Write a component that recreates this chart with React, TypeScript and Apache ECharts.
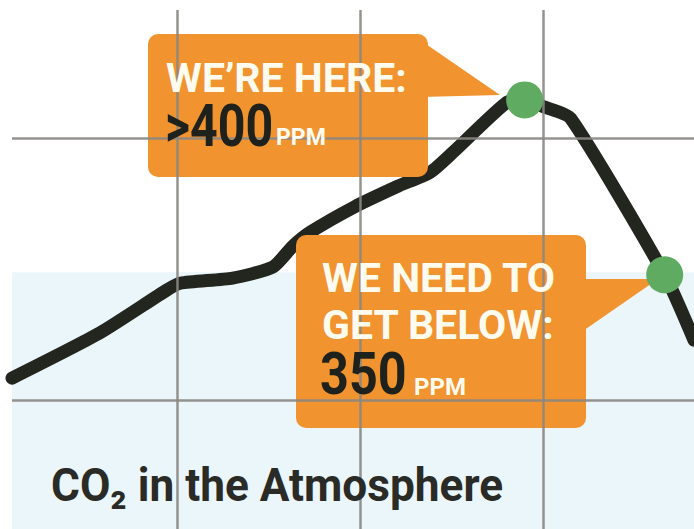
import React, { useEffect, useRef } from "react";
import * as echarts from "echarts";

// Curve of atmospheric CO2 (illustrative), year vs ppm
const years = [1962, 1971.6, 1978.9, 1980.4, 1986.1, 1990.5, 1992.7, 1994.6, 1999.4, 2004.2, 2007.7, 2010.2, 2016.1, 2018.0, 2020.2, 2023.0, 2033.3, 2036.5];
const ppm = [310.4, 327.3, 343.3, 345.9, 347.8, 351.9, 359.8, 365.0, 374.4, 382.2, 387.4, 394.9, 413.6, 414.4, 411.7, 407.6, 349, 324.6];

// Highlighted points: "we're here" and "need to get below"
const dotYears = [2018.0, 2033.3];
const dotPpm = [414.4, 349];

// Grid lines
const gridYears = [1980, 2000, 2020];
const gridPpm = [400, 302];
const safeLevel = 350;

const xMin = 1962;
const xMax = 2036.5;
const yMin = 254;
const yMax = 448;

const ORANGE = "#f1932f";
const WHITE = "#fffbef";
const DARK = "#1f211c";

export default function App() {
  const ref = useRef<HTMLDivElement>(null);

  useEffect(() => {
    if (!ref.current) return;
    const chart = echarts.init(ref.current, null, { renderer: "svg" });

    const txt = (text: string, x: number, y: number, size: number, fill: string, scaleX = 1) => ({
      type: "text",
      x,
      y,
      scaleX,
      z: 6,
      style: {
        text,
        fill,
        fontSize: size,
        fontWeight: "bold",
        fontFamily: "Roboto, 'DejaVu Sans', sans-serif",
        align: "left",
        verticalAlign: "middle",
      },
    });

    chart.setOption({
      animation: false,
      backgroundColor: "#ffffff",
      grid: { left: 12, top: 10, right: 0, bottom: 0 },
      xAxis: { type: "value", min: xMin, max: xMax, show: false },
      yAxis: { type: "value", min: yMin, max: yMax, show: false },
      series: [
        {
          type: "line",
          data: [],
          z: 1,
          silent: true,
          markArea: {
            silent: true,
            itemStyle: { color: "#ebf6fa" },
            data: [[{ yAxis: yMin }, { yAxis: safeLevel }]],
          },
        },
        {
          type: "line",
          data: [],
          z: 2,
          silent: true,
          markLine: {
            silent: true,
            symbol: "none",
            label: { show: false },
            lineStyle: { color: "#8a8782", width: 2.5, type: "solid", opacity: 0.9 },
            data: [
              ...gridYears.map((v) => ({ xAxis: v })),
              ...gridPpm.map((v) => ({ yAxis: v })),
            ],
          },
        },
        {
          type: "line",
          z: 3,
          data: years.map((y, i) => [y, ppm[i]]),
          showSymbol: false,
          smooth: 0.2,
          lineStyle: { color: "#23261f", width: 13, cap: "round", join: "round" },
        },
        {
          type: "scatter",
          z: 10,
          data: dotYears.map((y, i) => [y, dotPpm[i]]),
          symbolSize: 37,
          itemStyle: { color: "#60ab62", opacity: 1 },
        },
      ],
      graphic: {
        elements: [
          // Callout 1
          { type: "rect", z: 5, shape: { x: 148, y: 34, width: 280, height: 143, r: 10 }, style: { fill: ORANGE } },
          { type: "polygon", z: 5, shape: { points: [[420, 40], [500, 95], [420, 97]] }, style: { fill: ORANGE } },
          txt("WE’RE HERE:", 166, 78, 41, WHITE),
          txt(">400", 165, 126, 59, DARK, 0.82),
          txt("PPM", 276, 137, 23, WHITE),
          // Callout 2
          { type: "rect", z: 5, shape: { x: 296, y: 235, width: 290, height: 193, r: 10 }, style: { fill: ORANGE } },
          { type: "polygon", z: 5, shape: { points: [[580, 279], [658, 279], [580, 333]] }, style: { fill: ORANGE } },
          txt("WE NEED TO", 322, 278, 41, WHITE),
          txt("GET BELOW:", 322, 325, 41, WHITE),
          txt("350", 320, 374, 60, DARK, 0.84),
          txt("PPM", 414, 387, 24, WHITE),
          // Title
          {
            type: "text",
            x: 51,
            y: 485,
            scaleX: 0.94,
            z: 6,
            style: {
              text: "CO₂ in the Atmosphere",
              fill: "#2a2b26",
              fontSize: 47,
              fontWeight: "bold",
              fontFamily: "Roboto, 'DejaVu Sans', sans-serif",
              align: "left",
              verticalAlign: "middle",
            },
          },
        ],
      },
    });

    return () => chart.dispose();
  }, []);

  return <div ref={ref} style={{ position: "absolute", left: 0, top: 0, width: 694, height: 529 }} />;
}
